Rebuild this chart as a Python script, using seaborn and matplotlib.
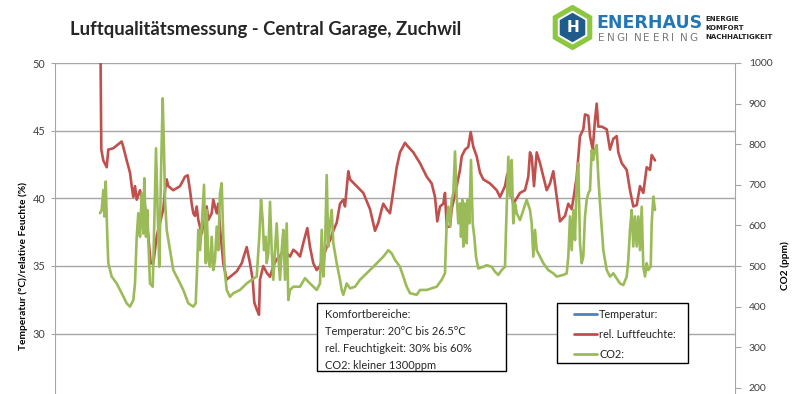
import matplotlib
matplotlib.use("Agg")
import matplotlib.pyplot as plt
from matplotlib.patches import Rectangle, RegularPolygon
from matplotlib.lines import Line2D
import seaborn as sns

hum_t = [0.5, 1.3, 3.3, 6.7, 8.3, 13.3, 21.7, 23.3, 26.7, 30, 31.7, 33.3, 35, 36.7, 40, 41.7,
         45, 46.7, 48.3, 50.7, 53.3, 56.7, 60, 63.3, 65, 66.7, 68.3, 73.3, 80, 85, 87.7, 90,
         91.7, 93.3, 95, 96.7, 98.3, 101.7, 106.7, 108.3, 111.7, 113.3, 116.7, 118.3, 120.7,
         123.3, 126.7, 130, 136.7, 141.7, 146.7, 150, 152.7, 154.3, 156.7, 159, 160, 163.3,
         166.7, 170, 173.3, 176.7, 180, 183.3, 190, 193.3, 196.7, 200, 203.3, 207.3, 210,
         213.3, 216.7, 220, 223.3, 226.7, 230, 233.3, 236.7, 240, 243.3, 245, 248.3, 250,
         256.7, 263.3, 270, 275, 278.3, 281.7, 283.3, 286.7, 290, 293.3, 296.7, 300, 305,
         308.3, 313.3, 320, 326.7, 331.7, 335, 337.3, 340, 343.3, 345, 346.7, 350, 351.7,
         356.7, 360, 361.7, 365, 368.3, 370.7, 373.3, 376.7, 380, 383.3, 390, 396.7, 400, 405,
         407.3, 413.3, 420, 425, 428.3, 430, 431.7, 434, 436.7, 440, 443.3, 446.7, 450, 453.3,
         456.7, 460, 465, 468.3, 471.7, 474.3, 476.7, 480, 483.3, 485, 488.3, 490, 492.7, 495,
         496.7, 498.3, 501.7, 506.7, 510, 513.3, 516.7, 518.3, 521.7, 526.7, 530, 533.3,
         536.7, 540, 543.3, 546.7, 550, 551.7, 555]
hum_vals = [51.0, 43.6, 42.8, 42.3, 43.6, 43.7, 44.2, 43.8, 42.8, 41.9, 40.9, 40.1, 40.9, 39.9,
            40.6, 40.1, 39.4, 38.4, 37.2, 35.2, 35.2, 37.2, 38.2, 39.2, 40.6, 41.4, 40.9, 40.6,
            40.9, 41.6, 41.7, 40.6, 39.6, 38.9, 38.7, 39.4, 38.4, 37.4, 39.4, 38.4, 38.9, 39.9,
            38.9, 39.6, 37.2, 35.2, 34.0, 34.2, 34.6, 35.2, 36.4, 35.2, 34.0, 32.3, 31.8, 31.4,
            34.0, 35.0, 34.5, 34.2, 35.0, 35.5, 35.7, 36.2, 35.7, 36.2, 36.0, 35.7, 36.7, 37.8,
            36.4, 35.2, 34.7, 35.0, 35.7, 36.4, 36.9, 37.6, 38.2, 39.6, 39.9, 39.4, 42.0, 41.4,
            40.9, 40.4, 39.2, 37.6, 38.2, 39.2, 39.6, 39.2, 38.9, 40.6, 42.3, 43.4, 44.1, 43.8,
            43.4, 42.6, 41.6, 41.1, 40.1, 38.3, 39.4, 39.6, 40.4, 37.9, 37.9, 39.2, 40.9, 42.1,
            43.1, 43.6, 43.8, 44.9, 43.8, 43.1, 41.9, 41.4, 41.1, 40.6, 40.1, 40.9, 41.8, 39.6,
            40.4, 40.6, 41.6, 43.4, 43.1, 40.9, 43.4, 42.6, 41.6, 40.6, 41.1, 42.0, 40.1, 38.3,
            38.7, 39.6, 39.2, 40.4, 41.6, 44.6, 45.1, 46.2, 46.1, 44.6, 43.6, 45.8, 47.0, 45.3,
            45.3, 45.1, 43.6, 44.4, 44.6, 43.4, 42.6, 42.1, 40.6, 39.4, 39.5, 40.9, 40.4, 42.3,
            42.1, 43.2, 42.8]

co2_t = [0, 1.7, 3.3, 4.3, 5.7, 7.3, 8.3, 11.7, 16.7, 21.7, 26.7, 30, 33.3, 35, 36.7, 38.3, 40,
         41.7, 43.3, 44.3, 46, 47.3, 48.3, 50, 52.7, 54.3, 56, 57.7, 59.3, 61, 62.7, 64, 65,
         66.7, 70, 73.3, 78.3, 83.3, 88.3, 93.3, 95.7, 97.3, 98.3, 100, 101.7, 104, 105.7,
         106.7, 108.3, 110, 111.7, 113.3, 115, 116.7, 118.3, 120, 121.7, 123.3, 125, 126.7,
         130, 133.3, 140, 146.7, 151.7, 156.7, 159.3, 161, 162.7, 164, 165.7, 166.7, 168.3,
         170, 171.7, 173.3, 175, 176.7, 178.3, 180, 181.7, 183.3, 185, 186.7, 188.3, 190,
         193.3, 200, 205, 210, 216.7, 220, 221.7, 223.3, 225, 226.7, 228.3, 230, 231.7, 233.3,
         236.7, 240, 241.7, 243.3, 246.7, 250, 255, 260, 266.7, 273.3, 280, 283.3, 288.3,
         291.7, 295, 300, 303.3, 306.7, 310, 316.7, 320, 326.7, 331.7, 336.7, 341.7, 345,
         345.7, 346.7, 348.3, 350, 351.7, 353.3, 355, 356.7, 358.3, 360, 361, 362.3, 363.3,
         365, 366.7, 367.7, 369.3, 371, 372.7, 374.3, 376, 378.3, 383.3, 386.7, 391.7, 395,
         398.3, 401.7, 405, 406, 407.3, 408.3, 410, 411.7, 413.3, 415, 416.7, 420, 423.3,
         426.7, 430, 431.7, 433.3, 435, 436.7, 440, 443.3, 448.3, 453.3, 456.7, 463.3, 466.7,
         468.3, 470, 471.7, 473.3, 475, 476.7, 478.3, 480, 481.7, 483.3, 485, 486.7, 488.3,
         490, 491.7, 493.3, 495, 496.7, 498.3, 500, 503.3, 506.7, 510, 513.3, 520, 523.3,
         526.7, 528.3, 530, 531.7, 533.3, 535, 536.7, 538.3, 540, 541.7, 543.3, 545, 546.7,
         548.3, 550.7, 551.7, 553.3, 555]
co2_vals = [630, 638, 687, 622, 708, 572, 507, 474, 457, 433, 408, 400, 416, 457, 572, 630, 572,
            679, 580, 716, 572, 638, 564, 457, 449, 605, 790, 630, 498, 728, 913, 786, 663,
            589, 539, 490, 466, 441, 408, 400, 408, 507, 589, 539, 597, 700, 507, 638, 515,
            498, 572, 490, 515, 597, 539, 679, 704, 572, 482, 441, 424, 433, 441, 457, 466,
            474, 572, 663, 613, 539, 572, 507, 531, 658, 539, 466, 539, 605, 523, 466, 539,
            589, 466, 605, 416, 441, 449, 449, 470, 457, 441, 457, 589, 474, 539, 724, 548,
            605, 638, 556, 507, 466, 441, 429, 457, 445, 449, 466, 482, 498, 515, 523, 539,
            531, 515, 498, 474, 449, 433, 429, 441, 441, 445, 449, 466, 482, 539, 605, 646,
            597, 663, 679, 782, 671, 605, 654, 572, 663, 548, 654, 556, 663, 605, 761, 605,
            572, 523, 494, 498, 502, 498, 486, 478, 490, 498, 589, 687, 769, 671, 761, 605,
            654, 630, 613, 638, 663, 638, 605, 523, 589, 539, 523, 507, 490, 482, 474, 478,
            482, 523, 622, 539, 638, 564, 712, 753, 556, 507, 523, 622, 663, 679, 687, 786,
            761, 786, 798, 720, 654, 539, 490, 474, 482, 457, 453, 474, 515, 589, 638, 548,
            622, 548, 622, 539, 646, 498, 474, 507, 490, 498, 605, 671, 638]

series_labels = ["Temperatur:", "rel. Luftfeuchte:", "CO2:"]
series_colors = ["#4F81BD", "#C0504D", "#9BBB59"]

title = "Luftqualitätsmessung - Central Garage, Zuchwil"
comfort_text = ["Komfortbereiche:", "Temperatur: 20°C bis 26.5°C",
                "rel. Feuchtigkeit: 30% bis 60%", "CO2: kleiner 1300ppm"]

sns.set_style("white")
plt.rcParams["font.family"] = ["Lato", "DejaVu Sans"]

W, H = 800, 394
fig = plt.figure(figsize=(8, 3.94), dpi=100)


def fx(px):
    return px / W


def fy(py):
    return 1 - py / H


# Achsenbereich (unten abgeschnitten wie im Original)
ax = fig.add_axes([fx(55), fy(469), fx(735) - fx(55), fy(63) - fy(469)])
ax2 = ax.twinx()

sns.lineplot(x=hum_t, y=hum_vals, ax=ax, color=series_colors[1], linewidth=1.9,
             estimator=None, sort=False)
sns.lineplot(x=co2_t, y=co2_vals, ax=ax2, color=series_colors[2], linewidth=1.9,
             estimator=None, sort=False)

ax.set_xlim(-45, 635)
ax.set_ylim(20, 50)
ax2.set_ylim(0, 1000)
ax.set_yticks(range(30, 51, 5))
ax.set_yticks([20, 25], minor=True)
ax2.set_yticks(range(200, 1001, 100))
ax.set_xticks([])
ax.grid(axis="y", which="both", color="#a6a6a6", linewidth=1)
ax.set_axisbelow(True)

for a in (ax, ax2):
    for s in a.spines.values():
        s.set_visible(False)
ax.spines["left"].set_visible(True)
ax.spines["left"].set_color("#a6a6a6")
ax2.spines["right"].set_visible(True)
ax2.spines["right"].set_color("#a6a6a6")

ax.tick_params(axis="y", left=True, length=3, color="#a6a6a6", labelsize=7.8,
               labelcolor="#404040", pad=4)
ax2.tick_params(axis="y", right=True, length=4, color="#a6a6a6", labelsize=7.5,
                labelcolor="#404040", pad=6)

ax.set_xlabel("")
ax.set_ylabel("Temperatur (°C)/relative Feuchte (%)", fontsize=7.3, fontweight="bold",
              color="#000000", labelpad=3)
ax2.set_ylabel("CO2 (ppm)", fontsize=7.3, fontweight="bold", color="#000000", labelpad=6)

# Titel
fig.text(fx(70), fy(30), title, fontsize=13.3, fontweight="bold", ha="left", va="center")

# Textbox Komfortbereiche
fig.patches.append(Rectangle((fx(317), fy(371)), fx(506) - fx(317), fy(303) - fy(371),
                             transform=fig.transFigure, facecolor="white",
                             edgecolor="black", linewidth=1, zorder=4))
for i, line in enumerate(comfort_text):
    fig.text(fx(325), fy(315 + i * 16.7), line, fontsize=7.9, ha="left", va="center",
             zorder=6)

# Legende (manuell positioniert wie im Original)
fig.patches.append(Rectangle((fx(557), fy(363)), fx(688) - fx(557), fy(303) - fy(363),
                             transform=fig.transFigure, facecolor="white",
                             edgecolor="black", linewidth=1, zorder=4))
for i, (lab, col) in enumerate(zip(series_labels, series_colors)):
    ly = fy(314 + i * 20)
    fig.lines.append(Line2D([fx(574), fx(597)], [ly, ly], transform=fig.transFigure,
                            color=col, linewidth=2, zorder=6))
    fig.text(fx(599), ly, lab, fontsize=7.8, ha="left", va="center", color="#222222",
             zorder=6)

# Logo
lax = fig.add_axes([fx(550), fy(50), fx(595) - fx(550), fy(5) - fy(50)])
lax.set_xlim(-1, 1)
lax.set_ylim(-1, 1)
lax.set_aspect("equal")
lax.axis("off")
lax.add_patch(RegularPolygon((0, 0), 6, radius=0.98, orientation=0, color="#8DC63F"))
lax.add_patch(RegularPolygon((0, 0), 6, radius=0.72, orientation=0, color="#ffffff"))
lax.add_patch(RegularPolygon((0, 0), 6, radius=0.62, orientation=0, color="#1F5C8C"))
lax.text(0, -0.02, "H", color="white", fontsize=11, fontweight="bold",
         ha="center", va="center", family="DejaVu Sans")

fig.text(fx(596), fy(23), "ENERHAUS", color="#2576B5", fontsize=12.5, fontweight="bold",
         ha="left", va="center", family="DejaVu Sans")
for i, ch in enumerate("ENGINEERING"):
    fig.text(fx(598 + i * 9.1), fy(38), ch, color="#7a7a7a", fontsize=7.5,
             ha="left", va="center", family="DejaVu Sans")
for i, word in enumerate(["ENERGIE", "KOMFORT", "NACHHALTIGKEIT"]):
    fig.text(fx(705), fy(19 + i * 9), word, color="#222222", fontsize=5, fontweight="bold",
             ha="left", va="center", family="DejaVu Sans")

fig.savefig("out.png", dpi=100)
